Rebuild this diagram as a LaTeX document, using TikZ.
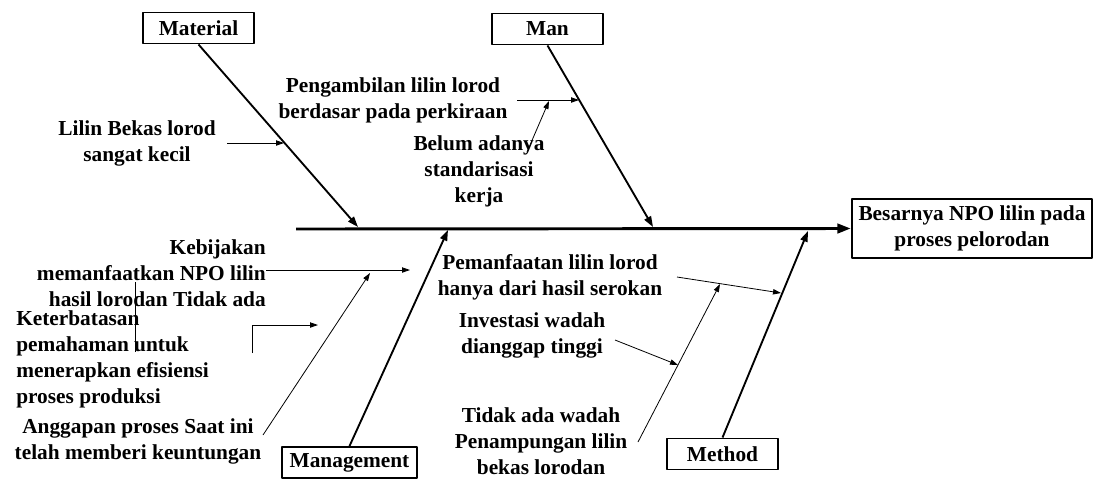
\documentclass[tikz,border=0pt]{standalone}
\usepackage{fontspec}
\setmainfont{Liberation Serif}
\usetikzlibrary{arrows.meta}

\tikzset{
  catbox/.style={draw,line width=1.2pt,inner sep=0pt,minimum width=83pt,minimum height=23.5pt,
    font=\bfseries\fontsize{16}{19.5}\selectfont},
  cause/.style={inner sep=0pt,align=center,font=\bfseries\fontsize{16}{19.5}\selectfont},
  bone/.style={line width=1.4pt,-{Triangle[length=8pt,width=5.5pt]}},
  twig/.style={line width=0.6pt,-{Triangle[length=6pt,width=4pt]}},
}

\begin{document}
\begin{tikzpicture}[x=0.75pt,y=-0.75pt,line join=round]
\useasboundingbox (0,0) rectangle (1094,480);

% ---- head and spine ----
\node[catbox,line width=1.8pt,minimum width=180pt,minimum height=44pt,align=center]
  (effect) at (972,228.5) {Besarnya NPO lilin pada\\proses pelorodan};
\coordinate (tail) at (296,229);
\draw[line width=2.2pt,-{Triangle[length=10pt,width=7pt]}] (tail) -- (effect.west);

% ---- the four categories ----
\node[catbox] (material) at (198.5,28) {Material};
\node[catbox] (man) at (547.5,29) {Man};
\node[catbox,minimum width=101pt] (management) at (349.5,462.5) {Management};
\node[catbox] (method) at (722.5,454) {Method};

\coordinate (tMaterial) at (358,227);
\coordinate (tMan) at (653,227);
\coordinate (tManagement) at (448,230);
\coordinate (tMethod) at (808,231);

\draw[bone] (material.south) -- (tMaterial);
\draw[bone] (man.south) -- (tMan);
\draw[bone] (management.north) -- (tManagement);
\draw[bone] (method.north) -- (tMethod);

% ---- material ----
\node[cause] (lilin) at (137,143) {Lilin Bekas lorod\\sangat kecil};
\coordinate (lilinA) at (227,143);
\coordinate (lilinB) at (284,143);
\draw[twig] (lilinA) -- (lilinB);

% ---- man ----
\node[cause] (ambil) at (393,100) {Pengambilan lilin lorod\\berdasar pada perkiraan};
\node[cause] (belum) at (479,171) {Belum adanya\\standarisasi\\kerja};
\coordinate (ambilA) at (517,100);
\coordinate (ambilB) at (579,100);
\coordinate (belumA) at (527,152);
\coordinate (belumB) at (549,101);
\draw[twig] (ambilA) -- (ambilB);
\draw[twig] (belumA) -- (belumB);

% ---- management ----
\node[cause,anchor=east,align=right] (bijak) at (266,273)
  {Kebijakan\\memanfaatkan NPO lilin\\hasil lorodan Tidak ada};
\node[cause,anchor=west,align=left] (batas) at (16,359)
  {Keterbatasan\\pemahaman untuk\\menerapkan efisiensi\\proses produksi};
\node[cause] (anggap) at (138,441) {Anggapan proses Saat ini\\telah memberi keuntungan};
\coordinate (bijakA) at (266,270);
\coordinate (bijakB) at (410,270);
\coordinate (stubA) at (135,282);
\coordinate (stubB) at (135,352);
\coordinate (batasA) at (252,353);
\coordinate (batasB) at (318,325);
\coordinate (anggapA) at (263,435);
\coordinate (anggapB) at (370,273);
\draw[twig] (bijakA) -- (bijakB);
\draw[line width=0.6pt] (stubA) -- (stubB);
\draw[twig] (batasA) |- (batasB);
\draw[twig] (anggapA) -- (anggapB);

% ---- method ----
\node[cause] (manfaat) at (550,277) {Pemanfaatan lilin lorod\\hanya dari hasil serokan};
\node[cause] (invest) at (532,335) {Investasi wadah\\dianggap tinggi};
\node[cause] (wadah) at (541,441) {Tidak ada wadah\\Penampungan lilin\\bekas lorodan};
\coordinate (manfaatA) at (677,277);
\coordinate (manfaatB) at (781,293);
\coordinate (wadahA) at (638,442);
\coordinate (wadahB) at (720,284);
\coordinate (investA) at (615,340);
\coordinate (investB) at (678,365);
\draw[twig] (manfaatA) -- (manfaatB);
\draw[twig] (wadahA) -- (wadahB);
\draw[twig] (investA) -- (investB);
\end{tikzpicture}
\end{document}
